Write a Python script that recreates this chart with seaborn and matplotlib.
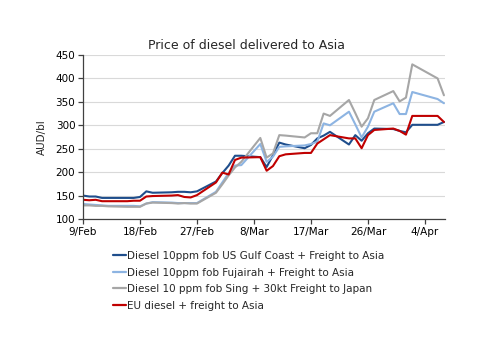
import matplotlib
matplotlib.use("Agg")
import matplotlib.pyplot as plt
import seaborn as sns
import pandas as pd
from matplotlib.lines import Line2D

dates = ["2026-02-09", "2026-02-10", "2026-02-11", "2026-02-12", "2026-02-13",
         "2026-02-16", "2026-02-17", "2026-02-18", "2026-02-19", "2026-02-20",
         "2026-02-23", "2026-02-24", "2026-02-25", "2026-02-26", "2026-02-27",
         "2026-03-02", "2026-03-03", "2026-03-04", "2026-03-05", "2026-03-06",
         "2026-03-09", "2026-03-10", "2026-03-11", "2026-03-12", "2026-03-13",
         "2026-03-16", "2026-03-17", "2026-03-18", "2026-03-19", "2026-03-20",
         "2026-03-23", "2026-03-24", "2026-03-25", "2026-03-26", "2026-03-27",
         "2026-03-30", "2026-03-31", "2026-04-01", "2026-04-02", "2026-04-06",
         "2026-04-07"]

us_gulf = [150, 148, 148, 145, 145, 145, 145, 147, 159, 156,
           157, 158, 158, 157, 159, 180, 198, 214, 235, 235,
           232, 211, 236, 263, 259, 251, 258, 272, 278, 286,
           259, 279, 267, 283, 293, 292, 288, 285, 301, 301,
           307]
fujairah = [132, 131, 130, 129, 128, 128, 128, 127, 133, 136,
            135, 134, 134, 134, 134, 158, 178, 198, 214, 215,
            260, 222, 233, 254, 255, 257, 260, 265, 304, 300,
            329, 302, 274, 297, 329, 347, 324, 324, 371, 356,
            347]
singapore = [129, 129, 128, 128, 127, 126, 126, 126, 133, 135,
             134, 133, 134, 133, 133, 156, 174, 193, 210, 222,
             273, 231, 240, 279, 278, 274, 283, 283, 325, 320,
             354, 326, 297, 315, 354, 373, 351, 359, 430, 400,
             364]
eu = [141, 140, 141, 138, 138, 138, 139, 139, 148, 149,
      150, 151, 147, 146, 151, 178, 199, 195, 226, 231,
      232, 203, 213, 234, 238, 241, 241, 261, 270, 279,
      272, 272, 251, 279, 290, 293, 288, 280, 320, 320,
      307]

series_names = ["Diesel 10ppm fob US Gulf Coast + Freight to Asia",
                "Diesel 10ppm fob Fujairah + Freight to Asia",
                "Diesel 10 ppm fob Sing + 30kt Freight to Japan",
                "EU diesel + freight to Asia"]
colors = ["#1F4E8C", "#8DB4E2", "#A6A6A6", "#C00000"]

x_ticks = ["2026-02-09", "2026-02-18", "2026-02-27", "2026-03-08",
           "2026-03-17", "2026-03-26", "2026-04-04"]
x_tick_labels = ["9/Feb", "18/Feb", "27/Feb", "8/Mar", "17/Mar", "26/Mar", "4/Apr"]
y_ticks = [100, 150, 200, 250, 300, 350, 400, 450]

frames = []
for name, vals in zip(series_names, [us_gulf, fujairah, singapore, eu]):
    frames.append(pd.DataFrame({"date": pd.to_datetime(dates), "value": vals, "series": name}))
df = pd.concat(frames, ignore_index=True)

sns.set_theme(style="white")
plt.rcParams['font.family'] = ['DejaVu Sans']

fig = plt.figure(figsize=(5.0, 3.53), dpi=100)
ax = fig.add_axes([0.166, 0.3796, 0.724, 0.4646])

sns.lineplot(data=df, x="date", y="value", hue="series", hue_order=series_names,
             palette=colors, linewidth=1.5, ax=ax, legend=False)

ax.set_xlim(pd.Timestamp("2026-02-09"), pd.Timestamp("2026-04-07 04:00"))
ax.set_ylim(100, 450)
ax.set_yticks(y_ticks)
ax.set_yticklabels([str(v) for v in y_ticks], fontsize=7.5)
ax.set_xticks(pd.to_datetime(x_ticks))
ax.set_xticklabels(x_tick_labels, fontsize=7.5)
ax.yaxis.grid(True, color="#D9D9D9", linewidth=0.8)
ax.xaxis.grid(False)
for s in ["top", "right"]:
    ax.spines[s].set_visible(False)
for s in ["left", "bottom"]:
    ax.spines[s].set_color("#404040")
    ax.spines[s].set_linewidth(0.9)
ax.tick_params(axis="both", which="major", length=3.5, width=0.9, color="#404040",
               direction="out", bottom=True, left=True, pad=2, labelcolor="black")
ax.set_xlabel("")
ax.set_ylabel("AUD/bl", fontsize=7.5, labelpad=6)

fig.text(0.494, 0.872, "Price of diesel delivered to Asia", ha="center", va="center", fontsize=9)

handles = [Line2D([0], [0], color=c, linewidth=1.6) for c in colors]
fig.legend(handles, series_names, loc="upper left", bbox_to_anchor=(0.226, 0.289),
           frameon=False, fontsize=7.5, handlelength=1.25, handletextpad=0.1,
           labelspacing=0.63, borderaxespad=0, borderpad=0)

fig.savefig("out.png", dpi=100)
